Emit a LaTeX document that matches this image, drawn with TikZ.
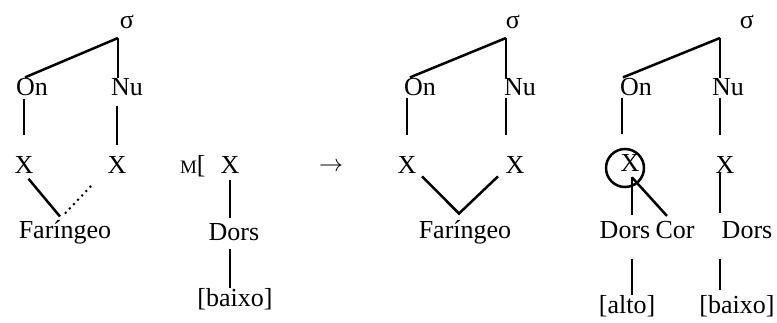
\documentclass[tikz,border=0pt]{standalone}
\usepackage{fontspec}
\setmainfont{Liberation Serif}
\usepackage{tikz}

\begin{document}
\begin{tikzpicture}[
    x=0.5pt, y=-0.5pt,
    lab/.style={anchor=base, inner sep=0pt, font=\fontsize{13}{15}\selectfont},
    link/.style={line width=1.25pt},
    ring/.style={draw, circle, line width=1.25pt, minimum size=19pt, inner sep=0pt}
]
    \useasboundingbox (0,0) rectangle (777,322);

    % input syllable
    \node[lab] (sig1) at (127,28) {σ};
    \coordinate (top1) at (118,38);
    \node[lab] (on1) at (32,95) {On};
    \node[lab] (nu1) at (127,95) {Nu};
    \node[lab] (xa1) at (24,173) {X};
    \node[lab] (xb1) at (117,173) {X};
    \node[lab] (far1) at (65,238) {Faríngeo};

    \draw[link] (top1) -- ([xshift=-3.5pt]on1.north);
    \draw[link] (top1) -- (top1 |- nu1.north);
    \draw[link, shorten <=1.5pt, shorten >=10.5pt] (on1.south -| xa1) -- (xa1.north);
    \draw[link, shorten <=5pt, shorten >=5.5pt] (nu1.south -| xb1) -- (xb1.north);
    \draw[link, shorten <=3.5pt] (xa1.south) -- ([xshift=-2.5pt, yshift=1.5pt]far1.north);
    \draw[line width=1pt, dotted, shorten >=7pt] ([yshift=3pt]far1.north) -- ([xshift=-7pt]xb1.south);

    % morpheme
    \node[lab, anchor=base east] (mk) at (206,173) {{\fontsize{9.5}{9.5}\selectfont M}[};
    \node[lab] (xc1) at (230,173) {X};
    \node[lab] (dors1) at (234,240) {Dors};
    \node[lab] (bai1) at (235,306) {[baixo]};
    \draw[link, shorten <=3.5pt, shorten >=2.5pt] (xc1.south) -- (xc1.south |- dors1.north);
    \draw[link, shorten <=4pt] (dors1.south -| xc1) -- (xc1 |- bai1.north);

    \node[lab] (arr) at (331,171) {$\rightarrow$};

    % spread pharyngeal
    \node[lab] (sig2) at (513,28) {σ};
    \coordinate (top2) at (506,38);
    \node[lab] (on2) at (420,95) {On};
    \node[lab] (nu2) at (520,95) {Nu};
    \node[lab] (xa2) at (407,173) {X};
    \node[lab] (xb2) at (515,173) {X};
    \node[lab] (far2) at (465,238) {Faríngeo};

    \draw[link] (top2) -- ([xshift=-5pt]on2.north);
    \draw[link] (top2) -- (top2 |- nu2.north);
    \draw[link, shorten <=1pt, shorten >=10.5pt] (on2.south -| xa2) -- (xa2.north);
    \draw[link, shorten <=1pt, shorten >=10.5pt] (top2 |- nu2.south) -- (top2 |- xb2.north);
    \draw[link] ([xshift=7.5pt, yshift=-1.5pt]xa2.south) -- ([xshift=-3pt, yshift=3pt]far2.north)
        -- ([xshift=-8.5pt, yshift=-1.5pt]xb2.south);

    % circled onset
    \node[lab] (sig3) at (747,28) {σ};
    \coordinate (top3) at (720,38);
    \node[lab] (on3) at (636,95) {On};
    \node[lab] (nu3) at (728,95) {Nu};
    \node[ring] (ring3) at (625,168) {};
    \node[lab] (xa3) at (630,171) {X};
    \node[lab] (xb3) at (725,173) {X};
    \node[lab] (dors3) at (625,238) {Dors};
    \node[lab] (cor3) at (675,238) {Cor};
    \node[lab] (dors4) at (747,238) {Dors};
    \node[lab] (alto3) at (627,313) {[alto]};
    \node[lab] (bai3) at (737,313) {[baixo]};
    \coordinate (hub) at ([xshift=1pt, yshift=-3pt]xa3.south);

    \draw[link] (top3) -- ([xshift=-6.5pt]on3.north);
    \draw[link] (top3) -- (top3 |- nu3.north);
    \draw[link, shorten <=1pt, shorten >=7pt] ([xshift=-7pt]on3.south) -- ([xshift=-1.5pt]ring3.north);
    \draw[link, shorten <=1pt, shorten >=10.5pt] (top3 |- nu3.south) -- (top3 |- xb3.north);
    \draw[link, shorten >=3pt] (hub) -- (hub |- dors3.north);
    \draw[link, shorten >=3pt] (hub) -- ([xshift=-2pt]cor3.north);
    \draw[link, shorten >=4pt] (top3 |- xb3.south) -- (top3 |- dors4.north);
    \draw[link, shorten <=10pt] (hub |- dors3.south) -- (hub |- alto3.north);
    \draw[link, shorten <=10pt, shorten >=2.5pt] (top3 |- dors4.south) -- (top3 |- bai3.north);
\end{tikzpicture}
\end{document}
